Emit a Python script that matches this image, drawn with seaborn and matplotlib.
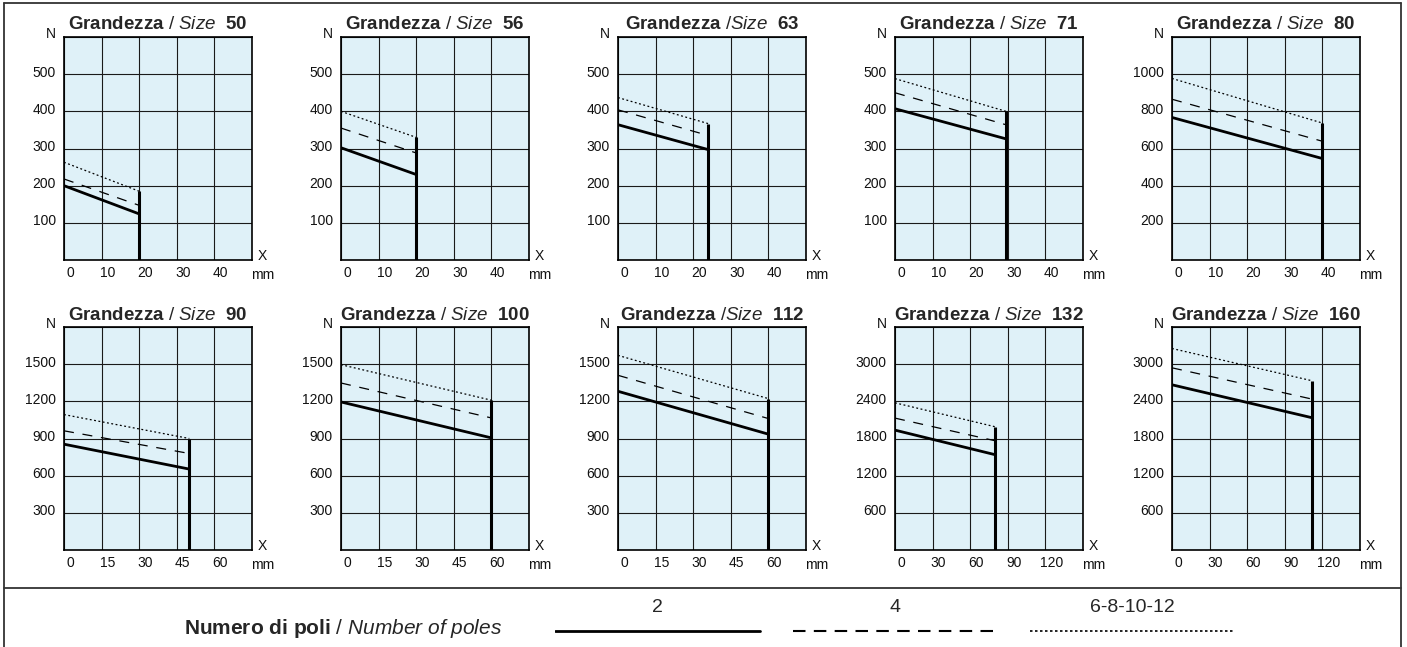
import numpy as np
import pandas as pd
import seaborn as sns
import matplotlib.pyplot as plt
from matplotlib.lines import Line2D
import matplotlib.transforms as mtransforms

# grandezze motore e dati
sizes = [50, 56, 63, 71, 80, 90, 100, 112, 132, 160]
title_sep = [" / ", " / ", " /", " / ", " / ", " / ", " / ", " /", " / ", " / "]
x_stroke = [20, 20, 24, 29.5, 40, 50, 60, 60, 80, 112]   # corsa X max (mm)

# forza N a X=0 (start) e a X=corsa max (end)
n2_start = [200, 302, 364, 407, 767, 854, 1195, 1281, 1935, 2667]
n2_end = [124, 230, 297, 326, 546, 653, 905, 935, 1538, 2134]
n4_start = [218, 355, 404, 450, 865, 962, 1348, 1410, 2129, 2941]
n4_end = [147, 288, 335, 364, 639, 779, 1066, 1061, 1763, 2435]
n6_start = [263, 400, 437, 488, 977, 1093, 1496, 1571, 2376, 3253]
n6_end = [185, 330, 367, 400, 737, 900, 1209, 1222, 1989, 2731]

# scale assi
x_max = [50, 50, 50, 50, 50, 75, 75, 75, 150, 150]
y_max = [600, 600, 600, 600, 1200, 1800, 1800, 1800, 3600, 3600]

pole_labels = ["2", "4", "6-8-10-12"]

W, H = 1407, 647

sns.set_theme(style="white")
plt.rcParams["font.family"] = ["Liberation Sans", "DejaVu Sans"]
plt.rcParams["mathtext.fontset"] = "custom"
plt.rcParams["mathtext.rm"] = "Liberation Sans"
plt.rcParams["mathtext.bf"] = "Liberation Sans:bold"
plt.rcParams["mathtext.it"] = "Liberation Sans:italic"

# dati in formato lungo
rows = []
for i, s in enumerate(sizes):
    starts = [n2_start[i], n4_start[i], n6_start[i]]
    ends = [n2_end[i], n4_end[i], n6_end[i]]
    for p, a, b in zip(pole_labels, starts, ends):
        rows.append({"size": s, "poles": p, "x": 0, "N": a})
        rows.append({"size": s, "poles": p, "x": x_stroke[i], "N": b})
df = pd.DataFrame(rows)

line_w = {"2": 2.0, "4": 0.9, "6-8-10-12": 0.9}
line_d = {"2": "", "4": (8, 7), "6-8-10-12": (1.5, 2)}

fig = plt.figure(figsize=(W / 100, H / 100), dpi=100)
fig.patch.set_facecolor("white")

ax_w, ax_h = 188, 223
row_top = [37, 327]
title_off = [12.5, 11]
txt_col = "#111111"

for i, s in enumerate(sizes):
    r, c = divmod(i, 5)
    left = 64 + 277 * c
    top = row_top[r]
    ax = fig.add_axes([left / W, 1 - (top + ax_h) / H, ax_w / W, ax_h / H])
    ax.set_facecolor("#dff1f8")

    sns.lineplot(data=df[df["size"] == s], x="x", y="N", style="poles", size="poles",
                 sizes=line_w, dashes=line_d, color="black", legend=False,
                 estimator=None, sort=False, ax=ax)
    ax.vlines(x_stroke[i], 0, n6_end[i], color="black", lw=2.2)

    xt = np.linspace(0, x_max[i], 6)
    yt = np.linspace(0, y_max[i], 7)
    ax.set_xlim(0, x_max[i])
    ax.set_ylim(0, y_max[i])
    ax.set_xticks(xt)
    ax.set_yticks(yt)
    ax.set_xticklabels([f"{v:g}" for v in xt[:-1]] + [""])
    ax.set_yticklabels([""] + [f"{v:g}" for v in yt[1:-1]] + [""])
    ax.grid(True, color="#1a1a1a", lw=0.8)
    ax.tick_params(length=0, labelsize=10, colors=txt_col)
    ax.tick_params(axis="x", pad=4)
    ax.tick_params(axis="y", pad=6)
    for sp in ax.spines.values():
        sp.set_color("black")
        sp.set_linewidth(1.2)
    ax.set_xlabel("")
    ax.set_ylabel("")

    off_x = mtransforms.ScaledTranslation(6 / 100, 0, fig.dpi_scale_trans)
    for lab in ax.get_xticklabels():
        lab.set_transform(lab.get_transform() + off_x)
    off_y = mtransforms.ScaledTranslation(0, 3 / 100, fig.dpi_scale_trans)
    for lab in ax.get_yticklabels():
        lab.set_transform(lab.get_transform() + off_y)

    title = r"$\mathbf{Grandezza}$" + title_sep[i] + r"$\mathit{Size}$  $\mathbf{" + str(s) + "}$"
    ax.annotate(title, xy=(0.5, 1), xycoords="axes fraction", xytext=(0, title_off[r]),
                textcoords="offset pixels", ha="center", va="center", fontsize=13.5)
    ax.annotate("N", xy=(0, 1), xycoords="axes fraction", xytext=(-13, 3),
                textcoords="offset pixels", ha="center", va="center", fontsize=10, color=txt_col)
    ax.annotate("X", xy=(1, 0), xycoords="axes fraction", xytext=(10, 4),
                textcoords="offset pixels", ha="center", va="center", fontsize=10, color=txt_col)
    ax.annotate("mm", xy=(1, 0), xycoords="axes fraction", xytext=(11, -15),
                textcoords="offset pixels", ha="center", va="center", fontsize=10, color=txt_col)

# cornice
frame_kw = dict(transform=fig.transFigure, color="#333333", lw=1.3)
fig.add_artist(Line2D([4 / W, 4 / W], [0, 1 - 3 / H], **frame_kw))
fig.add_artist(Line2D([1401 / W, 1401 / W], [0, 1 - 3 / H], **frame_kw))
fig.add_artist(Line2D([4 / W, 1401 / W], [1 - 3 / H, 1 - 3 / H], **frame_kw))
fig.add_artist(Line2D([4 / W, 1401 / W], [1 - 588 / H, 1 - 588 / H], **frame_kw))

# legenda
fig.text(343 / W, 1 - 628 / H, r"$\mathbf{Numero\ di\ poli}$ / $\mathit{Number\ of\ poles}$",
         ha="center", va="center", fontsize=15)

lax = fig.add_axes([555 / W, 1 - 645 / H, 712.5 / W, 50 / H])
lax.set_xlim(0, 3)
lax.set_ylim(0, 1)
lax.axis("off")
leg_w = {"2": 2.0, "4": 1.5, "6-8-10-12": 1.2}
leg_d = {"2": "", "4": (6, 4), "6-8-10-12": (1.5, 1.5)}
seg = 205 / 237.5
for k, p in enumerate(pole_labels):
    kw = {"dashes": leg_d[p]} if leg_d[p] else {}
    lax.plot([k, k + seg], [0.28, 0.28], color="black", lw=leg_w[p], **kw)
    lax.text(k + seg / 2, 0.74, p, ha="center", va="center", fontsize=14)

fig.savefig("out.png", dpi=100, facecolor="white")
